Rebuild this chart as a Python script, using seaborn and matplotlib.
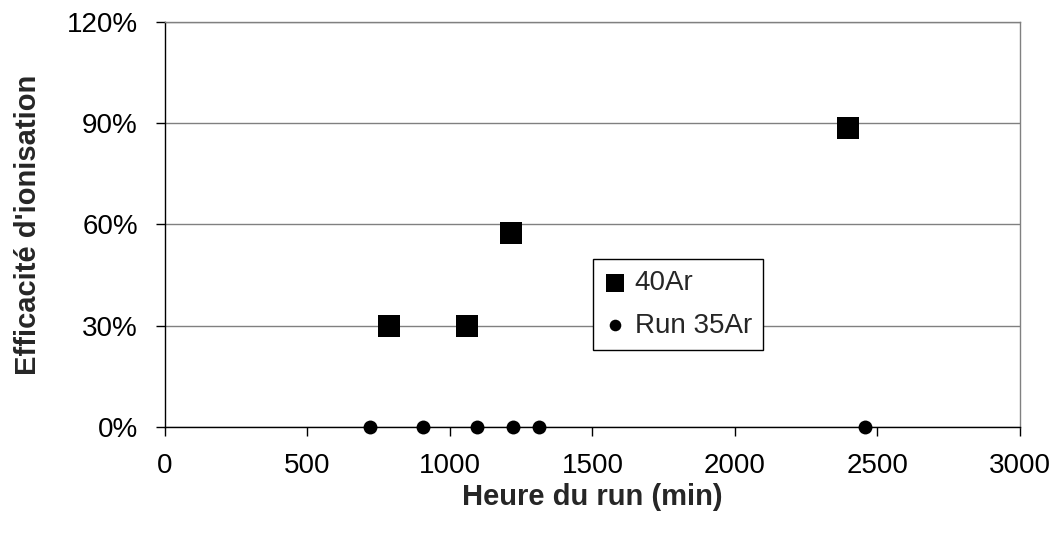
import matplotlib
matplotlib.use("Agg")
import matplotlib.pyplot as plt
from matplotlib.ticker import FuncFormatter, MultipleLocator
import pandas as pd
import seaborn as sns

# values
AR40_TIME = [786, 1060, 1214, 2396]
AR40_EFF = [0.30, 0.30, 0.574, 0.885]
AR35_TIME = [719, 906, 1094, 1220, 1313, 2456]
AR35_EFF = [0.0, 0.0, 0.0, 0.0, 0.0, 0.0]

FONT = ["Liberation Sans", "DejaVu Sans"]

df40 = pd.DataFrame({"time": AR40_TIME, "eff": AR40_EFF})
df35 = pd.DataFrame({"time": AR35_TIME, "eff": AR35_EFF})

sns.set_theme(style="white")
plt.rcParams["font.family"] = FONT

fig = plt.figure(figsize=(10.57, 5.33), dpi=100)
ax = fig.add_axes([0.156, 0.199, 0.809, 0.760])

ax.yaxis.grid(True, color="#808080", linewidth=1.0)
ax.set_axisbelow(True)

sns.scatterplot(data=df40, x="time", y="eff", marker="s", s=250, color="black",
                edgecolor="black", linewidth=0, label="40Ar", ax=ax, clip_on=False, zorder=3)
sns.scatterplot(data=df35, x="time", y="eff", marker="o", s=100, color="black",
                edgecolor="black", linewidth=0, label="Run 35Ar", ax=ax, clip_on=False, zorder=3)

ax.set_xlim(0, 3000)
ax.set_ylim(0, 1.2)
ax.xaxis.set_major_locator(MultipleLocator(500))
ax.yaxis.set_major_locator(MultipleLocator(0.3))
ax.yaxis.set_major_formatter(FuncFormatter(lambda v, p: f"{v * 100:.0f}%"))

for side in ["left", "bottom"]:
    ax.spines[side].set_color("black")
    ax.spines[side].set_linewidth(1.0)
for side in ["top", "right"]:
    ax.spines[side].set_color("#808080")
    ax.spines[side].set_linewidth(1.0)

ax.tick_params(axis="both", direction="out", length=6.5, width=1.0, color="black",
               labelsize=20, labelcolor="black")
ax.tick_params(axis="x", bottom=True, pad=12)
ax.tick_params(axis="y", left=True, pad=13)

ax.set_xlabel("Heure du run (min)", fontsize=21, fontweight="bold", labelpad=3)
ax.set_ylabel("Efficacité d'ionisation", fontsize=21, fontweight="bold", labelpad=18)

leg = ax.legend(loc="upper left", bbox_to_anchor=(0.5006, 0.415), fontsize=20,
                frameon=True, fancybox=False, edgecolor="black", framealpha=1,
                handletextpad=0.3, borderpad=0.4, labelspacing=0.6, handlelength=0.8,
                borderaxespad=0)
leg.get_frame().set_linewidth(1.0)
for h in leg.legend_handles:
    h.set_sizes([160 if h.get_label() == "40Ar" else 70])

fig.savefig("out.png", dpi=100)
